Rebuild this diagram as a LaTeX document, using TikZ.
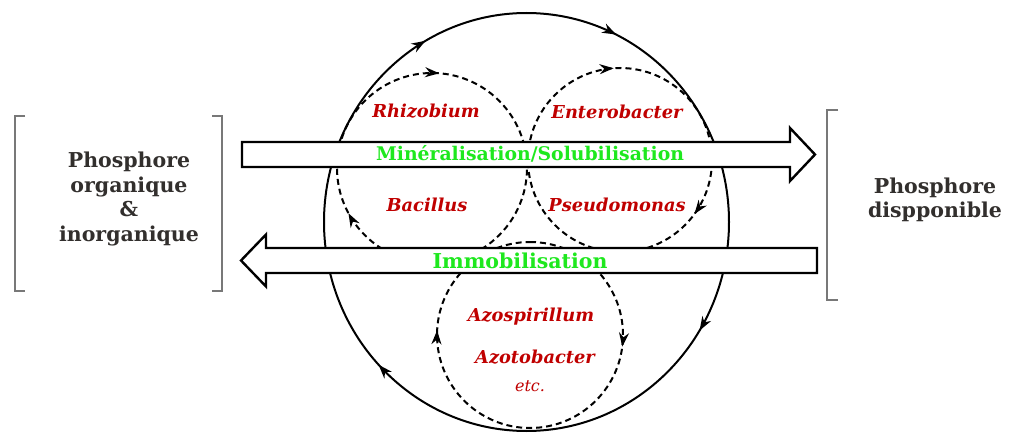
\documentclass[tikz,border=0pt]{standalone}
\usepackage{fontspec}
\setmainfont{DejaVu Serif}
\usetikzlibrary{arrows.meta,decorations.markings}
\definecolor{txtgray}{RGB}{50,47,45}
\definecolor{procgreen}{RGB}{30,232,30}
\definecolor{bactred}{RGB}{192,0,0}
\definecolor{brackgray}{RGB}{120,120,120}
\tikzset{
  bigloop/.style={line width=2pt, draw=black},
  dashloop/.style={line width=2pt, draw=black, dash pattern=on 6pt off 4pt},
  fatarrow/.style={draw=black, fill=white, line width=2.4pt, line join=miter},
  brackline/.style={draw=brackgray, line width=2pt},
  maintxt/.style={font=\bfseries\fontsize{20.5}{24.5}\selectfont, text=txtgray, align=center, inner sep=0pt},
  proctxt/.style={font=\bfseries\fontsize{18.8}{22}\selectfont, text=procgreen, inner sep=0pt},
  bacttxt/.style={font=\bfseries\itshape\fontsize{17.8}{20}\selectfont, text=bactred, inner sep=0pt},
  etctxt/.style={font=\itshape\fontsize{16}{18}\selectfont, text=bactred, inner sep=0pt},
  twotips/.style n args={2}{postaction={decorate, decoration={markings,
      mark=at position #1 with {\arrow{Stealth[length=14pt,width=10pt]}},
      mark=at position #2 with {\arrow{Stealth[length=14pt,width=10pt]}}}}},
}
\begin{document}
\begin{tikzpicture}[x=1pt,y=1pt]
\useasboundingbox (0,0) rectangle (1013,432);
\fill[white] (0,0) rectangle (1013,432);

% centres
\coordinate (ec) at (526.5,210);
\coordinate (cul) at (432,264);
\coordinate (cur) at (620,272);
\coordinate (cbo) at (530,97);

% big ellipse (clockwise)
\draw[bigloop, twotips={0.168}{0.322}, twotips={0.588}{0.879}]
  (ec) ++(180:202.5 and 209) arc[start angle=180, end angle=-180, x radius=202.5, y radius=209];

% dashed circles (clockwise)
\draw[dashloop, twotips={0.262}{0.921}]
  (cul) ++(180:95) arc[start angle=180, end angle=-180, radius=95];
\draw[dashloop, twotips={0.239}{0.600}]
  (cur) ++(180:92) arc[start angle=180, end angle=-180, radius=92];
\draw[dashloop, twotips={0.27}{0.758}]
  (cbo) ++(90:93) arc[start angle=90, end angle=-270, radius=93];

% fat arrows
\draw[fatarrow] (242,290) -- (790,290) -- (790,304) -- (815,277.5) -- (790,251) -- (790,265) -- (242,265) -- cycle;
\draw[fatarrow] (817,184) -- (266,184) -- (266,197.5) -- (241,171.5) -- (266,145.5) -- (266,159) -- (817,159) -- cycle;

% brackets
\draw[brackline] (25,316) -- (15,316) -- (15,141) -- (25,141);
\draw[brackline] (212,316) -- (222,316) -- (222,141) -- (212,141);
\draw[brackline] (838,322) -- (827,322) -- (827,132) -- (838,132);

% texts
\node[maintxt] (porg) at (129,233) {Phosphore\\organique\\\&\\inorganique};
\node[maintxt] (pdisp) at (935,232) {Phosphore\\dispponible};
\node[proctxt] (miner) at (530,278) {Minéralisation/Solubilisation};
\node[proctxt, font=\bfseries\fontsize{20.5}{22}\selectfont] (immo) at (520,171) {Immobilisation};
\node[bacttxt] (rhizo) at (426,321) {Rhizobium};
\node[bacttxt] (entero) at (617,320) {Enterobacter};
\node[bacttxt] (bacil) at (427,227) {Bacillus};
\node[bacttxt] (pseudo) at (617,227) {Pseudomonas};
\node[bacttxt] (azosp) at (531,115) {Azospirillum};
\node[bacttxt] (azoto) at (535,75) {Azotobacter};
\node[etctxt] (etc) at (530,46) {etc.};
\end{tikzpicture}
\end{document}
